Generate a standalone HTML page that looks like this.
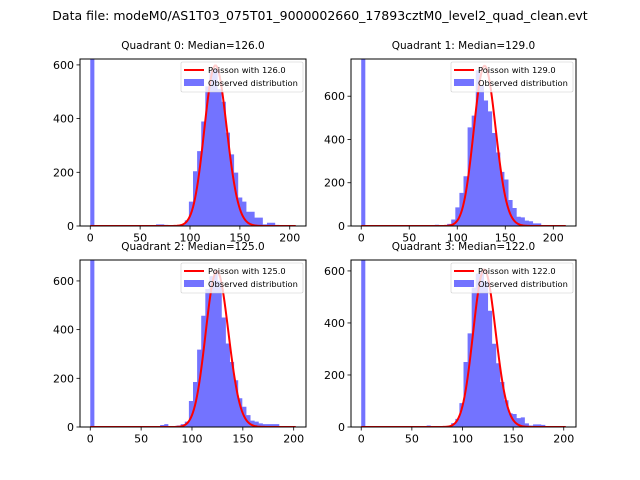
<!DOCTYPE html>
<html><head><meta charset="utf-8">
<style>
html,body{margin:0;padding:0;background:#fff;}
svg{display:block;font-family:"DejaVu Sans","Liberation Sans",sans-serif;}
</style></head>
<body>
<svg id="chart" width="640" height="480" viewBox="0 0 640 480" xmlns="http://www.w3.org/2000/svg">
<rect width="640" height="480" fill="#fff"/>
<text x="320" y="20" text-anchor="middle" font-size="12.5">Data file: modeM0/AS1T03_075T01_9000002660_17893cztM0_level2_quad_clean.evt</text>
</svg>
<script>
const quadrantNames = ["Quadrant 0", "Quadrant 1", "Quadrant 2", "Quadrant 3"];
const medians = [126.0, 129.0, 125.0, 122.0];
const dataMax = [206, 213, 202, 202];
const yMaxes = [622, 772, 686, 642];
const poissonPeaks = [598, 740, 640, 605];
const xTicks = [0, 50, 100, 150, 200];
const yTicks = [0, 200, 400, 600];
const zeroBins = [650, 800, 700, 660];
// counts per bin index (50 bins from 0 to dataMax)
const counts0 = {16:6,17:6,18:4,21:3,22:4,23:21,24:91,25:204,26:279,27:389,28:520,29:575,30:585,31:510,32:463,33:348,34:267,35:199,36:106,37:91,38:53,39:53,40:31,41:31,42:6,43:12,44:12,45:4};
const counts1 = {16:4,17:4,18:6,19:4,20:4,21:10,22:30,23:86,24:153,25:230,26:456,27:510,28:720,29:650,30:580,31:530,32:430,33:340,34:250,35:215,36:120,37:83,38:43,39:40,40:25,41:22,42:12,43:12,44:4,45:4};
const counts2 = {17:8,18:12,21:6,22:12,23:22,24:107,25:185,26:318,27:457,28:567,29:620,30:640,31:600,32:450,33:343,34:267,35:192,36:118,37:83,38:49,39:26,40:22,41:15,42:12,43:12,44:12,45:12};
const counts3 = {16:6,21:4,22:15,23:31,24:92,25:250,26:360,27:536,28:590,29:600,30:560,31:447,32:320,33:245,34:173,35:103,36:53,37:50,38:34,39:37,40:14,41:6,42:10,43:10,44:8};
const allCounts = [counts0, counts1, counts2, counts3];

const NS = "http://www.w3.org/2000/svg";
const svg = document.getElementById("chart");
const panels = [[80,59,226,167],[351,59,225,167],[80,260,226,167],[351,260,225,167]];

function mk(tag, attrs, parent){
  const e = document.createElementNS(NS, tag);
  for (const k in attrs) e.setAttribute(k, attrs[k]);
  (parent||svg).appendChild(e);
  return e;
}
function logFact(n){ let s=0; for(let i=2;i<=n;i++) s+=Math.log(i); return s; }

for (let p=0;p<4;p++){
  const [px,py,pw,ph] = panels[p];
  const D = dataMax[p];
  const x0 = -0.05*D, x1 = 1.05*D;
  const xs = v => px + (v - x0)/(x1-x0)*pw;
  const ys = v => py + ph - v/yMaxes[p]*ph;
  const g = mk("g", {});
  
  
  const clipId = "clip"+p;
  const cp = mk("clipPath", {id: clipId}, g);
  mk("rect", {x:px,y:py,width:pw,height:ph}, cp);
  const plot = mk("g", {"clip-path":"url(#"+clipId+")"}, g);
  const bw = D/50;
  const counts = allCounts[p];
  const bins = Object.assign({0: zeroBins[p]}, counts);
  let hd = "";
  const base = ys(0);
  let prevEnd = null;
  const keys = Object.keys(bins).map(Number).sort((a,b)=>a-b);
  keys.forEach(i=>{
    const xa = xs(i*bw), xb = xs((i+1)*bw), yt = ys(bins[i]);
    if (prevEnd !== i) { if (hd) hd += "L" + xs(prevEnd*bw) + "," + base + "Z"; hd += "M" + xa + "," + base; }
    hd += "L" + xa + "," + yt + "L" + xb + "," + yt;
    prevEnd = i+1;
  });
  hd += "L" + xs(prevEnd*bw) + "," + base + "Z";
  const hist = mk("path", {d: hd, fill:"#0000ff", "fill-opacity":"0.55"}, plot);
  
  
  const lam = medians[p];
  const peakLog = -lam + Math.round(lam)*Math.log(lam) - logFact(Math.round(lam));
  let d = "";
  for (let n=0; n<=Math.floor(D); n++){
    const lp = -lam + n*Math.log(lam) - logFact(n);
    const v = poissonPeaks[p]*Math.exp(lp - peakLog);
    d += (n===0?"M":"L") + xs(n).toFixed(2) + "," + ys(v).toFixed(2);
  }
  const curve = mk("path", {d:d, fill:"none", stroke:"#ff0000", "stroke-width":"2"}, plot);
  
  
  mk("rect", {x:px,y:py,width:pw,height:ph,fill:"none",stroke:"#000","stroke-width":"1"}, g);
  xTicks.forEach(t=>{
    const X = xs(t);
    mk("line",{x1:X,x2:X,y1:py+ph,y2:py+ph+3.5,stroke:"#000","stroke-width":"0.8"},g);
    const tx = mk("text",{x:X,y:py+ph+15.5,"text-anchor":"middle","font-size":"11"},g);
    tx.textContent = t;
    
    
  });
  yTicks.forEach(t=>{
    const Y = ys(t);
    mk("line",{x1:px-3.5,x2:px,y1:Y,y2:Y,stroke:"#000","stroke-width":"0.8"},g);
    const tx = mk("text",{x:px-6,y:Y+4,"text-anchor":"end","font-size":"11"},g);
    tx.textContent = t;
    
    
  });
  const tt = mk("text",{x:px+pw/2,y:py-10,"text-anchor":"middle","font-size":"10.5"},g);
  tt.textContent = quadrantNames[p] + ": Median=" + medians[p].toFixed(1);
  
  
  const lx = px+pw-125, ly = py+3;
  const lg = mk("g",{},g);
  
  
  mk("rect",{x:lx,y:ly,width:122,height:30,fill:"#fff","fill-opacity":"0.8",stroke:"#ccc","stroke-width":"0.6",rx:"1.5"},lg);
  mk("line",{x1:lx+3,x2:lx+23,y1:ly+8,y2:ly+8,stroke:"#ff0000","stroke-width":"2"},lg);
  const t1 = mk("text",{x:lx+27,y:ly+11,"font-size":"8.3"},lg);
  t1.textContent = "Poisson with " + medians[p].toFixed(1);
  
  
  mk("rect",{x:lx+3,y:ly+17,width:20,height:7,fill:"#0000ff","fill-opacity":"0.55"},lg);
  const t2 = mk("text",{x:lx+27,y:ly+24,"font-size":"8.3"},lg);
  t2.textContent = "Observed distribution";
  
  
}
</script>
</body></html>
